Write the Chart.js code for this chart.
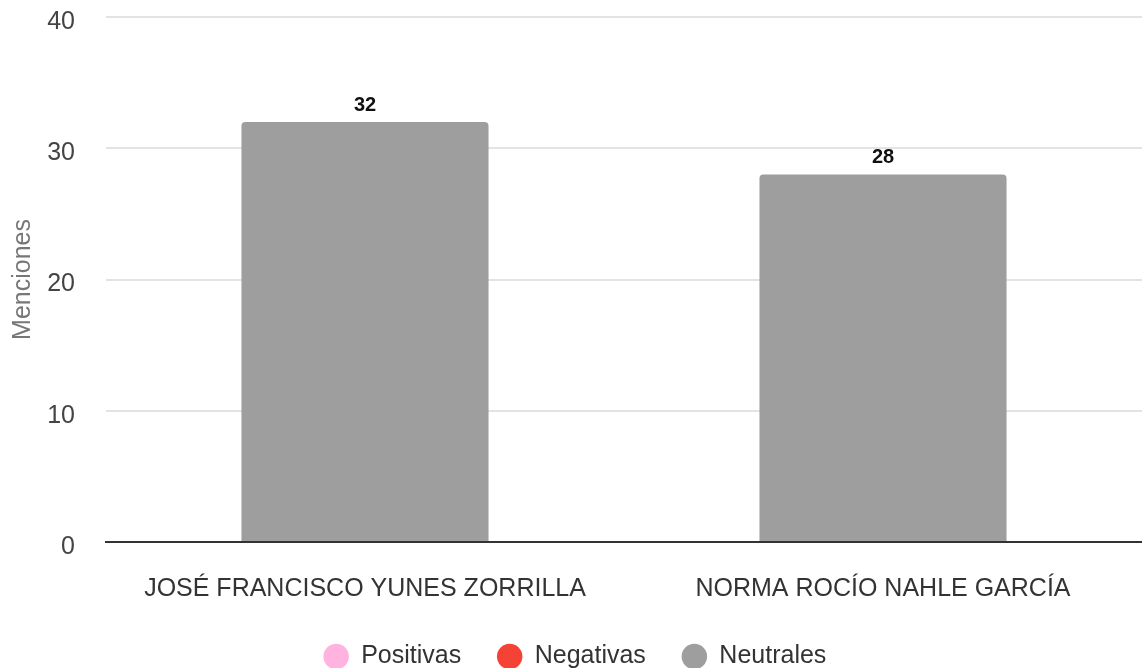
<!DOCTYPE html>
<html>
<head>
  <meta charset="utf-8">
  <script src="https://cdn.jsdelivr.net/npm/chart.js@4.4.1/dist/chart.umd.min.js"></script>
  <style>
    html, body { margin: 0; padding: 0; background: #fff; }
    .container-chart { width: 1142px; height: 668px; }
  </style>
</head>
<body>
  <div class="container-chart">
    <canvas id="myChart" width="1142" height="668"></canvas>
  </div>

  <script>
    const categories = ["JOSÉ FRANCISCO YUNES ZORRILLA", "NORMA ROCÍO NAHLE GARCÍA"];
    const positivas = [0, 0];
    const negativas = [0, 0];
    const neutrales = [32, 28];
    const yTicks = [0, 10, 20, 30, 40];

    const fontFamily = "'Liberation Sans', Arial, sans-serif";

    // totals drawn in bold above each stacked bar
    const totalLabels = {
      id: "totalLabels",
      afterDatasetsDraw(chart) {
        const ctx = chart.ctx;
        const yScale = chart.scales.y;
        const meta = chart.getDatasetMeta(2);
        ctx.save();
        ctx.font = "bold 20px " + fontFamily;
        ctx.fillStyle = "#111";
        ctx.textAlign = "center";
        ctx.textBaseline = "bottom";
        categories.forEach((c, i) => {
          const total = positivas[i] + negativas[i] + neutrales[i];
          const x = meta.data[i].x;
          const y = yScale.getPixelForValue(total);
          ctx.fillText(total, x, y - 7);
        });
        ctx.restore();
      }
    };

    new Chart("myChart", {
      type: "bar",
      data: {
        labels: categories,
        datasets: [
          { label: "Positivas", data: positivas, backgroundColor: "#ffb3de" },
          { label: "Negativas", data: negativas, backgroundColor: "#f44336" },
          { label: "Neutrales", data: neutrales, backgroundColor: "#9e9e9e", borderRadius: { topLeft: 4, topRight: 4 }, borderSkipped: "bottom" },
        ],
      },
      options: {
        responsive: false,
        animation: false,
        layout: { padding: { top: 0, right: 0, left: 8, bottom: -11 } },
        datasets: { bar: { categoryPercentage: 0.477, barPercentage: 1 } },
        plugins: {
          legend: {
            display: true,
            position: "bottom",
            labels: {
              usePointStyle: true,
              pointStyle: "circle",
              boxHeight: 18,
              boxWidth: 25,
              padding: 36,
              color: "#333",
              font: { family: fontFamily, size: 25 },
            },
          },
          tooltip: { enabled: false },
        },
        scales: {
          x: {
            stacked: true,
            grid: { display: false },
            border: { display: true, color: "#333", width: 2 },
            ticks: { color: "#333", font: { family: fontFamily, size: 25 }, padding: 24 },
            afterFit(scale) { scale.height = 66; },
          },
          y: {
            stacked: true,
            min: yTicks[0],
            max: yTicks[yTicks.length - 1],
            afterBuildTicks(axis) { axis.ticks = yTicks.map(v => ({ value: v })); },
            afterFit(scale) { scale.width = 98; scale.paddingTop = 17; scale.paddingBottom = 17; },
            border: { display: false },
            grid: { color: "#e3e3e3", lineWidth: 2, drawTicks: false },
            ticks: { color: "#444", font: { family: fontFamily, size: 25 }, padding: 31, labelOffset: 5 },
            title: { display: true, text: "Menciones", color: "#777", font: { family: fontFamily, size: 25 }, padding: 0 },
          },
        },
      },
      plugins: [totalLabels],
    });
  </script>
</body>
</html>
